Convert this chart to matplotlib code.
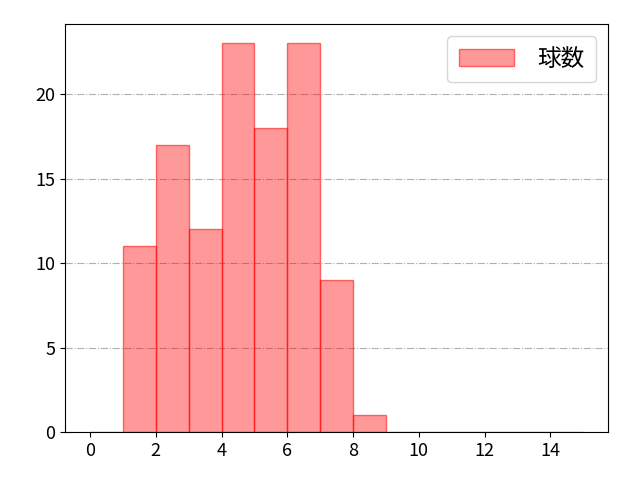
import matplotlib
matplotlib.use('Agg')
import matplotlib.pyplot as plt

plt.rcParams['font.family'] = ['Noto Sans CJK JP', 'DejaVu Sans']

# histogram bins (left edges) and counts
bin_lefts = list(range(0, 15))
counts = [0, 11, 17, 12, 23, 18, 23, 9, 1, 0, 0, 0, 0, 0, 0]
label = '球数'

fig, ax = plt.subplots(figsize=(6.4, 4.8), dpi=100)
fig.subplots_adjust(left=0.102, right=0.95, top=0.95, bottom=0.1)

ax.bar(bin_lefts, counts, width=1.0, align='edge',
       facecolor=(1, 0, 0, 0.4), edgecolor=(1, 0, 0, 0.55), linewidth=1,
       label=label)

ax.set_xlim(-0.75, 15.75)
ax.set_ylim(0, 23 * 1.05)
ax.set_xticks(range(0, 15, 2))
ax.set_yticks([0, 5, 10, 15, 20])
ax.tick_params(labelsize=13)
ax.grid(axis='y', linestyle='-.', color='#b0b0b0', linewidth=0.8)
ax.set_axisbelow(True)
ax.legend(loc='upper right', fontsize=17, handlelength=2.3,
          handletextpad=1.0, borderpad=0.5)

fig.savefig('out.png', dpi=100)
